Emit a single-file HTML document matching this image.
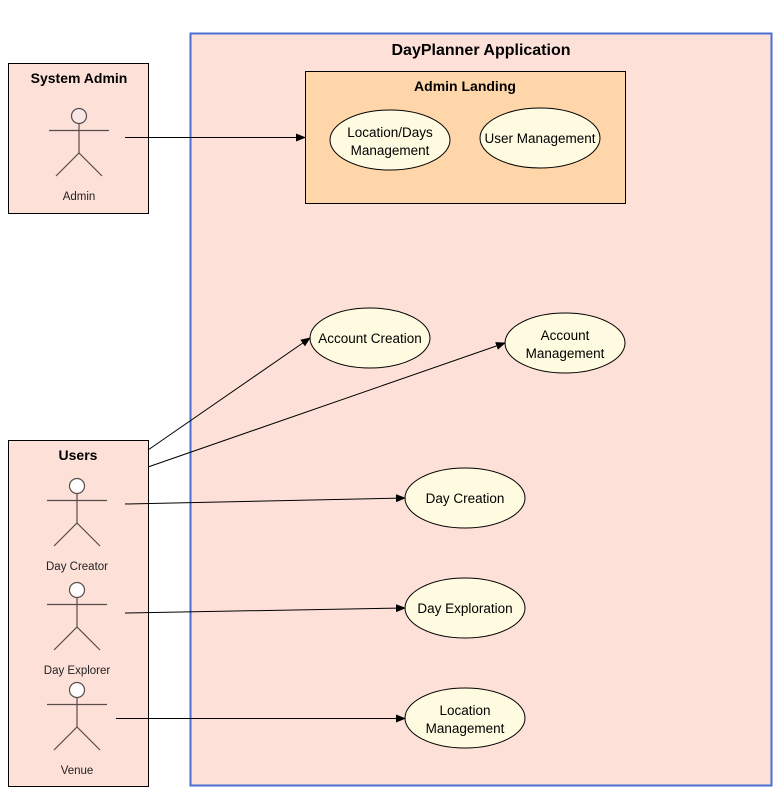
<!DOCTYPE html>
<html><head><meta charset="utf-8"><style>
html,body{margin:0;padding:0;background:#fff;}
svg{display:block;font-family:"Liberation Sans",sans-serif;}
</style></head><body>
<svg width="783" height="809" viewBox="0 0 783 809" xmlns="http://www.w3.org/2000/svg">
<defs><marker id="a" markerWidth="10" markerHeight="8" refX="9" refY="4" orient="auto" markerUnits="userSpaceOnUse"><path d="M0,0 L10,4 L0,8 Z" fill="#000"/></marker></defs>
<rect x="190.5" y="33.5" width="581" height="752" fill="#fde1d8" stroke="#4a6fd0" stroke-width="2"/>
<text x="481" y="55" font-size="16" font-weight="bold" text-anchor="middle">DayPlanner Application</text>
<rect x="305.5" y="71.5" width="320" height="132" fill="#fed6aa" stroke="#000"/>
<text x="465" y="91" font-size="14" font-weight="bold" text-anchor="middle">Admin Landing</text>
<g fill="#fffbe0" stroke="#000">
<ellipse cx="390" cy="140" rx="60" ry="30"/><ellipse cx="540" cy="138" rx="60" ry="30"/>
<ellipse cx="370" cy="338" rx="60" ry="30"/><ellipse cx="565" cy="343" rx="60" ry="30"/>
<ellipse cx="465" cy="498" rx="60" ry="30"/><ellipse cx="465" cy="608" rx="60" ry="30"/>
<ellipse cx="465" cy="718" rx="60" ry="30"/></g>
<g font-size="13.5" text-anchor="middle">
<text x="390" y="137">Location/Days</text><text x="390" y="155">Management</text>
<text x="540" y="143">User Management</text>
<text x="370" y="343">Account Creation</text>
<text x="565" y="340">Account</text><text x="565" y="358">Management</text>
<text x="465" y="503">Day Creation</text>
<text x="465" y="613">Day Exploration</text>
<text x="465" y="715">Location</text><text x="465" y="733">Management</text>
</g>
<rect x="8.5" y="63.5" width="140" height="150" fill="#fde1d8" stroke="#000"/>
<text x="79" y="83" font-size="14" font-weight="bold" text-anchor="middle">System Admin</text>
<g stroke="#5a4a48" stroke-width="1.2" fill="none">
<circle cx="79" cy="116" r="7.5" fill="#fbe6e6"/><line x1="49" y1="130.5" x2="109" y2="130.5"/><line x1="79" y1="123" x2="79" y2="153"/><path d="M56,176 L79,153 L102,176"/>
</g>
<text x="79" y="200" font-size="11.5" fill="#222" text-anchor="middle">Admin</text>
<rect x="8.5" y="440.5" width="140" height="346" fill="#fde1d8" stroke="#000"/>
<text x="78" y="460" font-size="14" font-weight="bold" text-anchor="middle">Users</text>
<g stroke="#5a4a48" stroke-width="1.2" fill="none">
<circle cx="77" cy="486" r="7.5" fill="#fff"/><line x1="47" y1="500.5" x2="107" y2="500.5"/><line x1="77" y1="493" x2="77" y2="523"/><path d="M54,546 L77,523 L100,546"/>
<circle cx="77" cy="590" r="7.5" fill="#fff"/><line x1="47" y1="604.5" x2="107" y2="604.5"/><line x1="77" y1="597" x2="77" y2="627"/><path d="M54,650 L77,627 L100,650"/>
<circle cx="77" cy="690" r="7.5" fill="#fff"/><line x1="47" y1="704.5" x2="107" y2="704.5"/><line x1="77" y1="697" x2="77" y2="727"/><path d="M54,750 L77,727 L100,750"/>
</g>
<g font-size="11.5" fill="#222" text-anchor="middle">
<text x="77" y="570">Day Creator</text><text x="77" y="674">Day Explorer</text><text x="77" y="774">Venue</text>
</g>
<g stroke="#000" stroke-width="1" marker-end="url(#a)">
<line x1="125" y1="137.5" x2="305" y2="137.5"/>
<line x1="148" y1="450" x2="310" y2="338"/>
<line x1="148" y1="467" x2="505" y2="343"/>
<line x1="125" y1="504" x2="405" y2="498"/>
<line x1="125" y1="613" x2="405" y2="608"/>
<line x1="116" y1="718.5" x2="405" y2="718.5"/>
</g>
</svg>
</body></html>
